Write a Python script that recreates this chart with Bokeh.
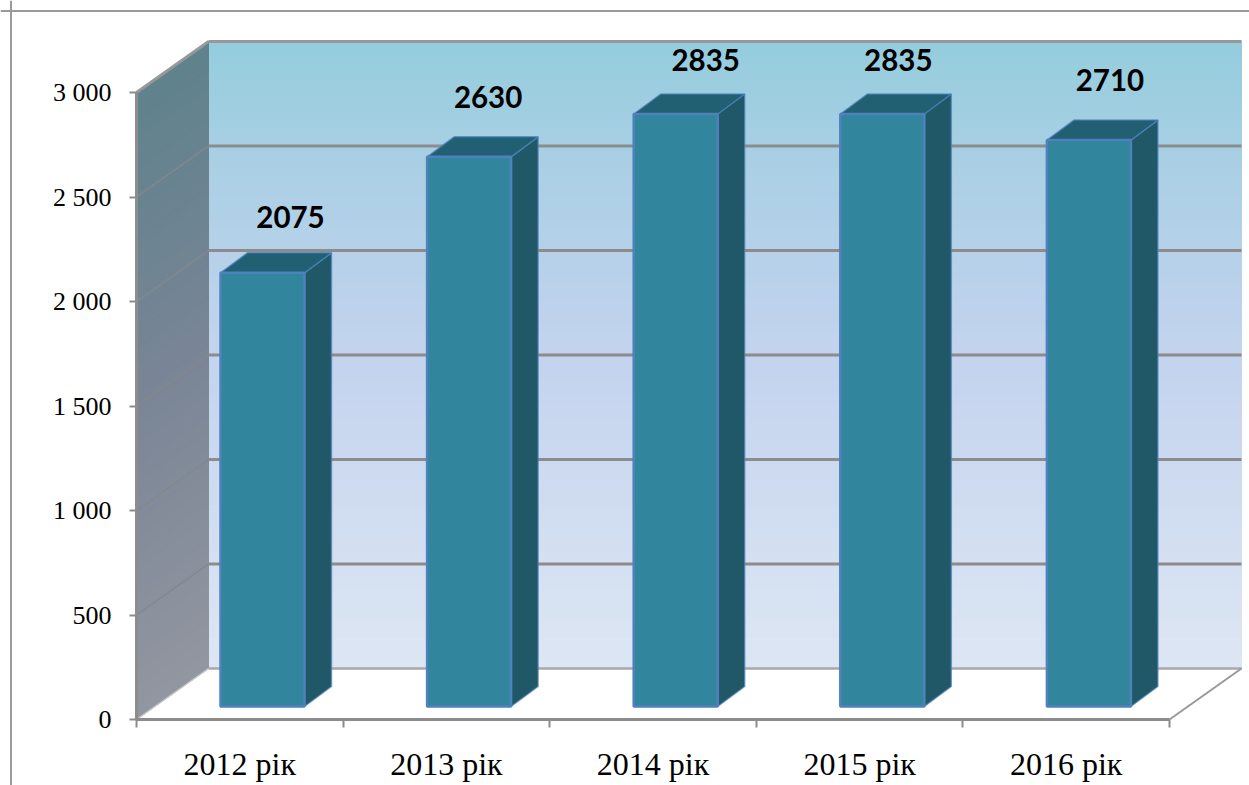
from bokeh.plotting import figure
from bokeh.models import LinearAxis, FixedTicker, Span, ColumnDataSource, Range1d
from bokeh.core.properties import value
from bokeh.embed import file_html
from bokeh.resources import INLINE

categories = ["2012 рік", "2013 рік", "2014 рік", "2015 рік", "2016 рік"]
values = [2075, 2630, 2835, 2835, 2710]
y_ticks = [0, 500, 1000, 1500, 2000, 2500, 3000]
y_tick_labels = ["0", "500", "1 000", "1 500", "2 000", "2 500", "3 000"]

# page geometry (pixels)
W, H = 1249, 785
PAGE = 0
X0, CAT_PX = 136.0, 206.6
Y0, UNIT_PX = 719.0, 627.0 / 3000
DEPTH_X = 72.0 / CAT_PX
DEPTH_Y = 51.0 / UNIT_PX
BAR_BASE = 13.0 / UNIT_PX
BAR_LEFT = 84.0 / CAT_PX
BAR_W = 84.0 / CAT_PX
SIDE_X = 27.0 / CAT_PX
SIDE_Y = 20.0 / UNIT_PX

label_dx = [28, 19, 30, 16, 21]
label_dy = [56, 60, 54, 54, 60]

def fx(px):
    return (px - X0) / CAT_PX

def fy(px):
    return (Y0 - px) / UNIT_PX

p = figure(width=W, height=H, output_backend="svg", toolbar_location=None,
           x_range=Range1d(fx(PAGE), fx(PAGE + W)), y_range=Range1d(fy(PAGE + H), fy(PAGE)),
           min_border=0, outline_line_color=None, x_axis_type=None, y_axis_type=None)
p.grid.visible = False
p.background_fill_color = "white"
p.border_fill_color = "white"

def mix(stops, t):
    for (t0, c0), (t1, c1) in zip(stops, stops[1:]):
        if t <= t1:
            k = (t - t0) / (t1 - t0)
            c = [round(a + (b - a) * k) for a, b in zip(c0, c1)]
            return "#%02x%02x%02x" % tuple(c)
    return "#%02x%02x%02x" % tuple(stops[-1][1])

back_stops = [(0, (221, 230, 243)), (0.5, (195, 211, 238)), (0.83, (167, 207, 227)), (1, (147, 205, 221))]
wall_stops = [(0, (146, 150, 160)), (0.5, (122, 133, 150)), (1, (94, 130, 140))]
N = 80
levels = [3000 * i / N for i in range(N + 1)]
cols_b = [mix(back_stops, i / N) for i in range(N)]
cols_w = [mix(wall_stops, i / N) for i in range(N)]

p.quad(left=DEPTH_X, right=5 + DEPTH_X,
       bottom=[v + DEPTH_Y for v in levels[:-1]], top=[v + DEPTH_Y for v in levels[1:]],
       fill_color=cols_b, line_color=cols_b, line_width=1)
p.patches(xs=[[0, DEPTH_X, DEPTH_X, 0] for _ in range(N)],
          ys=[[a, a + DEPTH_Y, b + DEPTH_Y, b] for a, b in zip(levels[:-1], levels[1:])],
          fill_color=cols_w, line_color=cols_w, line_width=1)

GRID = "#8c8c8c"
for v in y_ticks[1:-1]:
    p.line([DEPTH_X, 5 + DEPTH_X], [v + DEPTH_Y, v + DEPTH_Y], line_color=GRID, line_width=3)
    p.line([0, DEPTH_X], [v, v + DEPTH_Y], line_color="#84888c", line_width=1.5)
p.line([DEPTH_X, 5 + DEPTH_X], [DEPTH_Y, DEPTH_Y], line_color="#a8a8a8", line_width=2.5)
p.line([DEPTH_X, 5 + DEPTH_X], [3000 + DEPTH_Y] * 2, line_color="#989898", line_width=3)
p.line([0, DEPTH_X], [3000, 3000 + DEPTH_Y], line_color="#989898", line_width=3)
p.line([0, DEPTH_X], [0, DEPTH_Y], line_color="#c8c8c8", line_width=1.5)
p.line([5, 5 + DEPTH_X], [0, DEPTH_Y], line_color="#999999", line_width=2)

EDGE = "#4f81bd"
lefts = [i + BAR_LEFT for i in range(5)]
rights = [l + BAR_W for l in lefts]
tops = [BAR_BASE + v for v in values]
p.patches(xs=[[r, r + SIDE_X, r + SIDE_X, r] for r in rights],
          ys=[[BAR_BASE, BAR_BASE + SIDE_Y, t + SIDE_Y, t] for t in tops],
          fill_color="#205867", line_color=EDGE, line_width=1.5, line_alpha=0.7)
p.patches(xs=[[l, r, r + SIDE_X, l + SIDE_X] for l, r in zip(lefts, rights)],
          ys=[[t, t, t + SIDE_Y, t + SIDE_Y] for t in tops],
          fill_color="#215f72", line_color=EDGE, line_width=1.5, line_alpha=0.7)
p.quad(left=lefts, right=rights, bottom=BAR_BASE, top=tops,
       fill_color="#31859c", line_color=EDGE, line_width=2.5)

src = ColumnDataSource(dict(x=[(l + r) / 2 for l, r in zip(lefts, rights)], y=tops,
                            t=[str(v) for v in values], dx=label_dx, dy=[-d for d in label_dy]))
p.text(x="x", y="y", text="t", source=src, x_offset="dx", y_offset="dy",
       text_font=value("Lato"), text_font_style="bold", text_font_size="29.5px",
       text_color="black", text_align="center", text_baseline="middle")

AX = "#8c8c8c"
yax = LinearAxis(ticker=FixedTicker(ticks=y_ticks), fixed_location=0, bounds=(0, 3000),
                 major_label_overrides={t: s for t, s in zip(y_ticks, y_tick_labels)})
yax.axis_line_color = AX
yax.axis_line_width = 3
yax.major_tick_line_color = AX
yax.major_tick_line_width = 2
yax.major_tick_in = 0
yax.major_tick_out = 7
yax.minor_tick_line_color = None
yax.major_label_standoff = 18
yax.major_label_text_font = "Liberation Serif"
yax.major_label_text_font_size = "26px"
yax.major_label_text_color = "black"
p.add_layout(yax, "left")

centers = [i + 0.5 for i in range(5)]
xax = LinearAxis(ticker=FixedTicker(ticks=centers, minor_ticks=list(range(6))), fixed_location=0, bounds=(0, 5),
                 major_label_overrides={c: s for c, s in zip(centers, categories)})
xax.axis_line_color = AX
xax.axis_line_width = 3
xax.major_tick_line_color = None
xax.major_tick_in = 0
xax.major_tick_out = 0
xax.minor_tick_line_color = AX
xax.minor_tick_line_width = 2
xax.minor_tick_in = 0
xax.minor_tick_out = 8
xax.major_label_standoff = 18
xax.major_label_text_font = "Liberation Serif"
xax.major_label_text_font_size = "32px"
xax.major_label_text_color = "black"
p.add_layout(xax, "below")

FRAME = "#9a9a9a"
p.add_layout(Span(location=fx(10.5), dimension="height", line_color=FRAME, line_width=2))
p.add_layout(Span(location=fy(10.5), dimension="width", line_color=FRAME, line_width=2))

open("out.html", "w").write(file_html(p, INLINE))
